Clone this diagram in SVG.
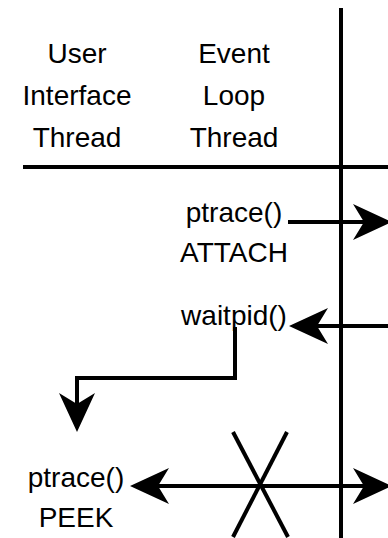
<svg xmlns="http://www.w3.org/2000/svg" xmlns:xlink="http://www.w3.org/1999/xlink" width="388" height="538" viewBox="0 0 388 538">
  <style>
    .lbl { font-family: "Liberation Sans", Arial, sans-serif; font-size: 28px; fill: #000; text-anchor: middle; }
    .ln { stroke: #000; stroke-width: 4; fill: none; }
  </style>
  <defs>
    <!-- barbed arrowhead, tip at origin, pointing along +x -->
    <path id="head" d="M0,0 L-39,-18 L-28,0 L-39,18 Z" fill="#000"/>
  </defs>

  <!-- frame: timeline and header separator -->
  <g id="frame">
    <line class="ln" x1="341" y1="8" x2="341" y2="538"/>
    <line class="ln" x1="23" y1="167" x2="388" y2="167"/>
  </g>

  <g id="ui-thread">
    <text class="lbl" x="77" y="63">User</text>
    <text class="lbl" x="77" y="105">Interface</text>
    <text class="lbl" x="77" y="147">Thread</text>
  </g>

  <g id="event-loop-thread">
    <text class="lbl" x="234" y="63">Event</text>
    <text class="lbl" x="234" y="105">Loop</text>
    <text class="lbl" x="234" y="147">Thread</text>
  </g>

  <g id="attach">
    <text class="lbl" x="234" y="222">ptrace()</text>
    <text class="lbl" x="234" y="262">ATTACH</text>
  </g>

  <g id="waitpid">
    <text class="lbl" x="234" y="325">waitpid()</text>
  </g>

  <g id="peek">
    <text class="lbl" x="76" y="487">ptrace()</text>
    <text class="lbl" x="76" y="527">PEEK</text>
  </g>

  <g id="blocked">
    <line class="ln" x1="233" y1="432" x2="288" y2="537"/>
    <line class="ln" x1="287" y1="432" x2="233" y2="537"/>
  </g>

  <g id="connectors">
    <line class="ln" x1="288" y1="222" x2="365" y2="222"/>
    <use xlink:href="#head" transform="translate(392,222)"/>

    <line class="ln" x1="388" y1="326" x2="312" y2="326"/>
    <use xlink:href="#head" transform="translate(289,326) rotate(180)"/>

    <polyline class="ln" points="235,327 235,378 77,378 77,410"/>
    <use xlink:href="#head" transform="translate(77,432) rotate(90)"/>

    <line class="ln" x1="150" y1="486" x2="365" y2="486"/>
    <use xlink:href="#head" transform="translate(130,486) rotate(180)"/>
    <use xlink:href="#head" transform="translate(392,486)"/>
  </g>
</svg>
